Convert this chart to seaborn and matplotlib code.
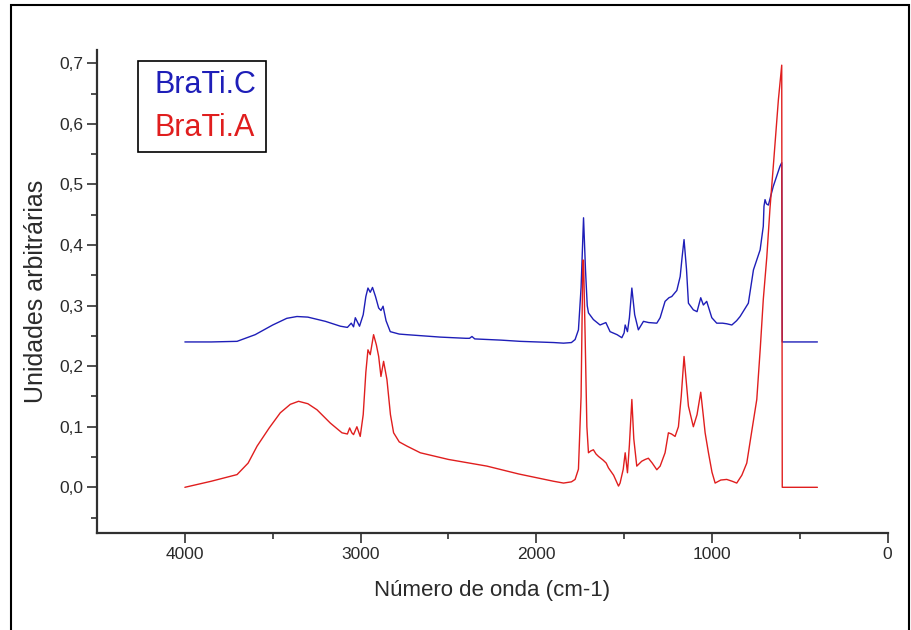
import matplotlib
matplotlib.use("Agg")
import matplotlib.pyplot as plt
import seaborn as sns
import pandas as pd
from matplotlib.patches import Rectangle
from matplotlib.ticker import FixedLocator

# ---------------- data ----------------
brati_c_wn = [4000, 3850, 3703, 3600, 3500, 3420, 3362, 3300, 3200, 3115, 3075, 3053, 3040,
              3030, 3006, 2985, 2970, 2958, 2945, 2932, 2915, 2897, 2884, 2872, 2855, 2831,
              2780, 2736, 2546, 2400, 2380, 2366, 2350, 2200, 2092, 1900, 1845, 1800, 1779,
              1760, 1745, 1731, 1720, 1710, 1703, 1675, 1637, 1604, 1580, 1540, 1513, 1500,
              1494, 1481, 1470, 1456, 1440, 1419, 1390, 1360, 1314, 1295, 1267, 1245, 1229,
              1200, 1181, 1170, 1159, 1145, 1134, 1106, 1085, 1064, 1049, 1030, 1001, 973,
              940, 916, 887, 860, 840, 793, 764, 726, 708, 704, 698, 690, 679, 651, 613, 603,
              600, 400]
brati_c_abs = [0.240, 0.240, 0.241, 0.252, 0.268, 0.279, 0.282, 0.281, 0.274, 0.266, 0.264,
               0.271, 0.265, 0.280, 0.266, 0.285, 0.315, 0.329, 0.322, 0.330, 0.315, 0.296,
               0.292, 0.299, 0.275, 0.257, 0.253, 0.252, 0.248, 0.246, 0.246, 0.249, 0.245,
               0.243, 0.241, 0.239, 0.238, 0.239, 0.244, 0.260, 0.330, 0.445, 0.360, 0.300,
               0.288, 0.277, 0.268, 0.272, 0.257, 0.252, 0.247, 0.255, 0.268, 0.257, 0.280,
               0.329, 0.285, 0.260, 0.274, 0.272, 0.271, 0.280, 0.307, 0.313, 0.315, 0.325,
               0.348, 0.380, 0.409, 0.360, 0.304, 0.293, 0.290, 0.313, 0.301, 0.307, 0.280,
               0.271, 0.271, 0.270, 0.268, 0.275, 0.282, 0.304, 0.359, 0.392, 0.431, 0.464,
               0.475, 0.468, 0.466, 0.497, 0.530, 0.536, 0.240, 0.240]

brati_a_wn = [4000, 3850, 3703, 3640, 3589, 3520, 3457, 3400, 3353, 3300, 3248, 3172, 3106,
              3075, 3062, 3050, 3040, 3021, 3002, 2985, 2970, 2958, 2945, 2926, 2910, 2897,
              2884, 2869, 2850, 2830, 2812, 2780, 2736, 2660, 2500, 2281, 2100, 1902, 1845,
              1800, 1779, 1760, 1745, 1735, 1731, 1722, 1712, 1703, 1690, 1675, 1660, 1646,
              1620, 1602, 1589, 1560, 1532, 1523, 1505, 1494, 1481, 1470, 1456, 1445, 1428,
              1400, 1380, 1362, 1340, 1314, 1295, 1267, 1248, 1230, 1210, 1191, 1175, 1159,
              1145, 1134, 1106, 1085, 1064, 1050, 1039, 1020, 1000, 982, 950, 916, 885, 859,
              830, 802, 775, 745, 725, 708, 688, 670, 651, 622, 603, 600, 400]
brati_a_abs = [0.000, 0.010, 0.021, 0.040, 0.068, 0.098, 0.123, 0.137, 0.142, 0.138, 0.128,
               0.106, 0.090, 0.088, 0.098, 0.090, 0.087, 0.100, 0.084, 0.120, 0.190, 0.227,
               0.219, 0.252, 0.235, 0.216, 0.183, 0.208, 0.178, 0.120, 0.090, 0.075, 0.068,
               0.057, 0.046, 0.035, 0.022, 0.010, 0.007, 0.009, 0.013, 0.030, 0.150, 0.375,
               0.375, 0.250, 0.100, 0.057, 0.060, 0.062, 0.055, 0.051, 0.045, 0.040, 0.032,
               0.020, 0.002, 0.007, 0.030, 0.057, 0.024, 0.070, 0.145, 0.080, 0.035, 0.043,
               0.046, 0.048, 0.040, 0.029, 0.035, 0.057, 0.090, 0.088, 0.084, 0.100, 0.150,
               0.216, 0.170, 0.134, 0.100, 0.120, 0.157, 0.120, 0.090, 0.057, 0.025, 0.007,
               0.012, 0.013, 0.010, 0.007, 0.020, 0.040, 0.090, 0.145, 0.230, 0.310, 0.380,
               0.460, 0.530, 0.640, 0.697, 0.000, 0.000]

series_names = ["BraTi.C", "BraTi.A"]
x_ticks = [4000, 3000, 2000, 1000, 0]
x_tick_labels = ["4000", "3000", "2000", "1000", "0"]
y_ticks = [0.0, 0.1, 0.2, 0.3, 0.4, 0.5, 0.6, 0.7]
y_tick_labels = ["0,0", "0,1", "0,2", "0,3", "0,4", "0,5", "0,6", "0,7"]
x_label = "Número de onda (cm-1)"
y_label = "Unidades arbitrárias"

# ---------------- styling ----------------
sns.set_style("white")
plt.rcParams["font.family"] = ["Liberation Sans", "DejaVu Sans"]

blue = "#1e1eb8"
red = "#e01e1e"
axis_col = "#303030"
text_col = "#2a2a2a"

fig = plt.figure(figsize=(9.11, 6.30), dpi=100)
ax = fig.add_axes([0.1065, 0.1544, 0.9744 - 0.1065, 0.9206 - 0.1544])

df_c = pd.DataFrame({"wn": brati_c_wn, "abs": brati_c_abs})
df_a = pd.DataFrame({"wn": brati_a_wn, "abs": brati_a_abs})

sns.lineplot(data=df_c, x="wn", y="abs", ax=ax, color=blue, lw=1.0, sort=False,
             estimator=None, label=series_names[0])
sns.lineplot(data=df_a, x="wn", y="abs", ax=ax, color=red, lw=1.0, sort=False,
             estimator=None, label=series_names[1])

ax.set_xlim(4500, 0)
ax.set_ylim(-0.075, 0.722)

ax.xaxis.set_major_locator(FixedLocator(x_ticks))
ax.set_xticklabels(x_tick_labels)
ax.xaxis.set_minor_locator(FixedLocator([3500, 2500, 1500, 500]))
ax.yaxis.set_major_locator(FixedLocator(y_ticks))
ax.set_yticklabels(y_tick_labels)
ax.yaxis.set_minor_locator(FixedLocator([-0.05, 0.05, 0.15, 0.25, 0.35, 0.45, 0.55, 0.65]))

ax.tick_params(which="major", direction="out", length=7, width=1.2, color=axis_col,
               labelsize=12.5, labelcolor=text_col, pad=3, bottom=True, left=True)
ax.tick_params(which="minor", direction="out", length=4, width=1.2, color=axis_col,
               bottom=True, left=True)

for s in ["top", "right"]:
    ax.spines[s].set_visible(False)
for s in ["left", "bottom"]:
    ax.spines[s].set_color(axis_col)
    ax.spines[s].set_linewidth(1.6)

ax.set_xlabel(x_label, fontsize=16, color=text_col, labelpad=13)
ax.set_ylabel(y_label, fontsize=18, color=text_col, labelpad=8)

leg = ax.legend(loc="upper left", bbox_to_anchor=(0.052, 0.977), borderaxespad=0,
                handlelength=0, handletextpad=0.25, fontsize=22, frameon=True, fancybox=False,
                edgecolor="black", framealpha=1, borderpad=0.3, labelspacing=0.42)
leg.get_frame().set_linewidth(1.2)
for h in leg.legend_handles:
    h.set_visible(False)
for txt, c in zip(leg.get_texts(), [blue, red]):
    txt.set_color(c)

# outer figure border
fig.patches.append(Rectangle((11 / 911, -0.02), (909 - 11) / 911, 1 - 5 / 630 + 0.02,
                             transform=fig.transFigure, fill=False, edgecolor="black",
                             linewidth=1.5))

fig.savefig("out.png", dpi=100)
